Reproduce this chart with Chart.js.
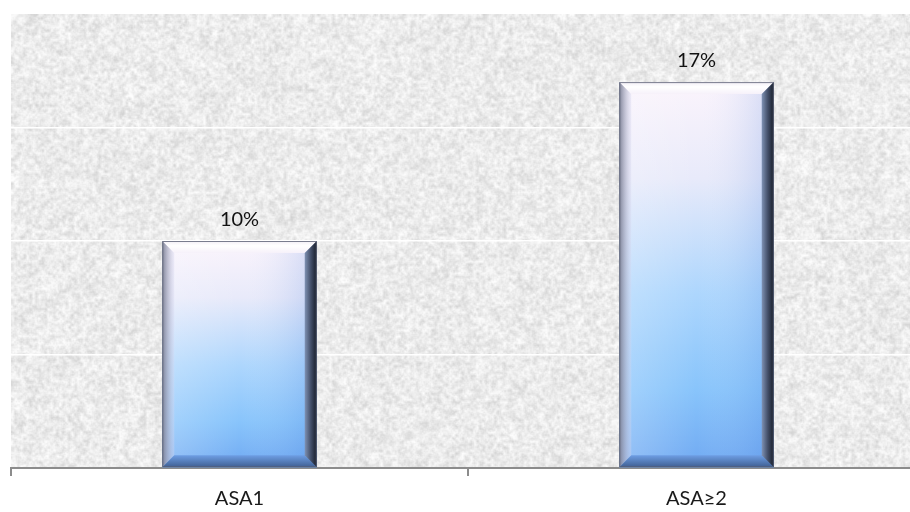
<!DOCTYPE html>
<html>
<head>
<meta charset="utf-8">
<script src="https://cdn.jsdelivr.net/npm/chart.js@4/dist/chart.umd.min.js"></script>
<style>
  html, body { margin: 0; padding: 0; background: #ffffff; overflow: hidden; }
  #wrap { width: 925px; height: 512px; }
</style>
</head>
<body>
<div id="wrap"><canvas id="chart" width="925" height="512"></canvas></div>
<script>
// Share of patients per ASA class
const categories = ['ASA1', 'ASA\u22652'];
const percentages = [10, 17];
const yTicks = [0, 5, 10, 15, 20];
const valueLabels = percentages.map(v => v + '%');

const FONT = 'Lato, "Open Sans", "Noto Sans", sans-serif';

// Deterministic hash used for the stone-like plot texture
function hash(x, y, s) {
  let h = Math.imul(x, 374761393) + Math.imul(y, 668265263) + Math.imul(s, 144665);
  h = Math.imul(h ^ (h >>> 13), 1274126177);
  h = h ^ (h >>> 16);
  return (h >>> 0) / 4294967296;
}

let textureCache = null;
function buildTexture(w, h) {
  const out = document.createElement('canvas');
  out.width = w; out.height = h;
  const octx = out.getContext('2d');
  octx.fillStyle = '#efefef';
  octx.fillRect(0, 0, w, h);
  const layers = [[8, 0.7, 7, 40], [3, 0.6, 1, 50], [1.5, 0.3, 2, 40]];
  for (const [scale, alpha, seed, amp] of layers) {
    const sw = Math.ceil(w / scale) + 1, sh = Math.ceil(h / scale) + 1;
    const small = document.createElement('canvas');
    small.width = sw; small.height = sh;
    const sctx = small.getContext('2d');
    const img = sctx.createImageData(sw, sh);
    for (let y = 0; y < sh; y++) {
      for (let x = 0; x < sw; x++) {
        const n = hash(x, y, seed);
        const v = Math.max(0, Math.min(255, 244 + (n - 0.6) * amp * 1.5));
        const i = (y * sw + x) * 4;
        img.data[i] = v; img.data[i + 1] = v; img.data[i + 2] = v; img.data[i + 3] = 255;
      }
    }
    sctx.putImageData(img, 0, 0);
    octx.globalAlpha = alpha;
    octx.imageSmoothingEnabled = true;
    octx.drawImage(small, 0, 0, sw * scale, sh * scale);
  }
  octx.globalAlpha = 1;
  return out;
}

const texturePlugin = {
  id: 'stoneTexture',
  beforeDraw(chart) {
    const { ctx, chartArea: a } = chart;
    const w = Math.round(a.right - a.left), h = Math.round(a.bottom - a.top);
    if (!textureCache || textureCache.width !== w || textureCache.height !== h) {
      textureCache = buildTexture(w, h);
    }
    ctx.save();
    ctx.drawImage(textureCache, a.left, a.top);
    ctx.restore();
  }
};

// Paints the beveled, gradient face of each bar over the element geometry
const bevelPlugin = {
  id: 'bevelBars',
  afterDatasetsDraw(chart) {
    const ctx = chart.ctx;
    const meta = chart.getDatasetMeta(0);
    meta.data.forEach((bar, i) => {
      const p = bar.getProps(['x', 'y', 'base', 'width'], true);
      const x0 = p.x - p.width / 2, x1 = p.x + p.width / 2;
      const y0 = p.y, yb = p.base;
      const b = 12;
      ctx.save();
      // face
      let g = ctx.createLinearGradient(0, y0, 0, yb);
      g.addColorStop(0, '#fbf4fc');
      g.addColorStop(0.25, '#e8eafa');
      g.addColorStop(0.55, '#add6fd');
      g.addColorStop(0.8, '#88c4fb');
      g.addColorStop(1, '#70a9f2');
      ctx.fillStyle = g;
      ctx.fillRect(x0, y0, x1 - x0, yb - y0);
      let hg = ctx.createLinearGradient(x0, 0, x1, 0);
      hg.addColorStop(0, 'rgba(255,255,255,0.25)');
      hg.addColorStop(0.5, 'rgba(255,255,255,0)');
      hg.addColorStop(1, 'rgba(40,100,210,0.2)');
      ctx.fillStyle = hg;
      ctx.fillRect(x0, y0, x1 - x0, yb - y0);
      // top bevel
      g = ctx.createLinearGradient(0, y0, 0, y0 + b);
      g.addColorStop(0, '#f2eef6');
      g.addColorStop(0.4, '#ffffff');
      g.addColorStop(1, '#f6f1fa');
      ctx.fillStyle = g;
      ctx.beginPath();
      ctx.moveTo(x0, y0); ctx.lineTo(x1, y0); ctx.lineTo(x1 - b, y0 + b); ctx.lineTo(x0 + b, y0 + b);
      ctx.closePath(); ctx.fill();
      // left bevel
      g = ctx.createLinearGradient(x0, 0, x0 + b, 0);
      g.addColorStop(0, 'rgba(120,124,145,0.95)');
      g.addColorStop(1, 'rgba(215,215,240,0.35)');
      ctx.fillStyle = g;
      ctx.beginPath();
      ctx.moveTo(x0, y0); ctx.lineTo(x0 + b, y0 + b); ctx.lineTo(x0 + b, yb - b); ctx.lineTo(x0, yb);
      ctx.closePath(); ctx.fill();
      // bottom bevel
      g = ctx.createLinearGradient(0, yb - b, 0, yb);
      g.addColorStop(0, '#6e9ee4');
      g.addColorStop(1, '#3f5f92');
      ctx.fillStyle = g;
      ctx.beginPath();
      ctx.moveTo(x0, yb); ctx.lineTo(x0 + b, yb - b); ctx.lineTo(x1 - b, yb - b); ctx.lineTo(x1, yb);
      ctx.closePath(); ctx.fill();
      // right bevel
      g = ctx.createLinearGradient(x1 - b, 0, x1, 0);
      g.addColorStop(0, '#7f92b4');
      g.addColorStop(0.5, '#44506a');
      g.addColorStop(1, '#161c28');
      ctx.fillStyle = g;
      ctx.beginPath();
      ctx.moveTo(x1, y0); ctx.lineTo(x1, yb); ctx.lineTo(x1 - b, yb - b); ctx.lineTo(x1 - b, y0 + b);
      ctx.closePath(); ctx.fill();
      // outline
      ctx.strokeStyle = 'rgba(90,95,115,0.8)';
      ctx.lineWidth = 1;
      ctx.strokeRect(x0 + 0.5, y0 + 0.5, x1 - x0 - 1, yb - y0 - 1);
      // value label
      ctx.fillStyle = '#111111';
      ctx.font = '20px ' + FONT;
      ctx.textAlign = 'center';
      ctx.textBaseline = 'alphabetic';
      ctx.fillText(valueLabels[i], p.x, y0 - 15);
      ctx.restore();
    });
  }
};

new Chart(document.getElementById('chart'), {
  type: 'bar',
  data: {
    labels: categories,
    datasets: [{
      data: percentages,
      backgroundColor: '#8cc4fb',
      borderWidth: 0,
      categoryPercentage: 1,
      barPercentage: 0.338
    }]
  },
  options: {
    responsive: false,
    animation: false,
    layout: { padding: { left: 11, top: 14, right: 0, bottom: 0 } },
    plugins: { legend: { display: false }, tooltip: { enabled: false } },
    scales: {
      x: {
        offset: true,
        grid: {
          offset: true,
          drawOnChartArea: false,
          drawTicks: true,
          tickLength: 8,
          color: '#8c8c8c',
          lineWidth: 2
        },
        border: { display: true, color: '#8c8c8c', width: 2 },
        ticks: {
          color: '#1a1a1a',
          padding: 11,
          font: { family: FONT, size: 20 }
        },
        afterFit(scale) { scale.height = 44; }
      },
      y: {
        display: true,
        min: 0,
        max: 20,
        afterBuildTicks(scale) { scale.ticks = yTicks.map(v => ({ value: v })); },
        ticks: { display: false },
        border: { display: false },
        grid: {
          drawTicks: false,
          lineWidth: 1.5,
          color: c => (c.tick && c.tick.value > 0 && c.tick.value < 20) ? '#ffffff' : 'rgba(0,0,0,0)'
        },
        afterFit(scale) { scale.width = 0; }
      }
    }
  },
  plugins: [texturePlugin, bevelPlugin]
});
</script>
</body>
</html>
